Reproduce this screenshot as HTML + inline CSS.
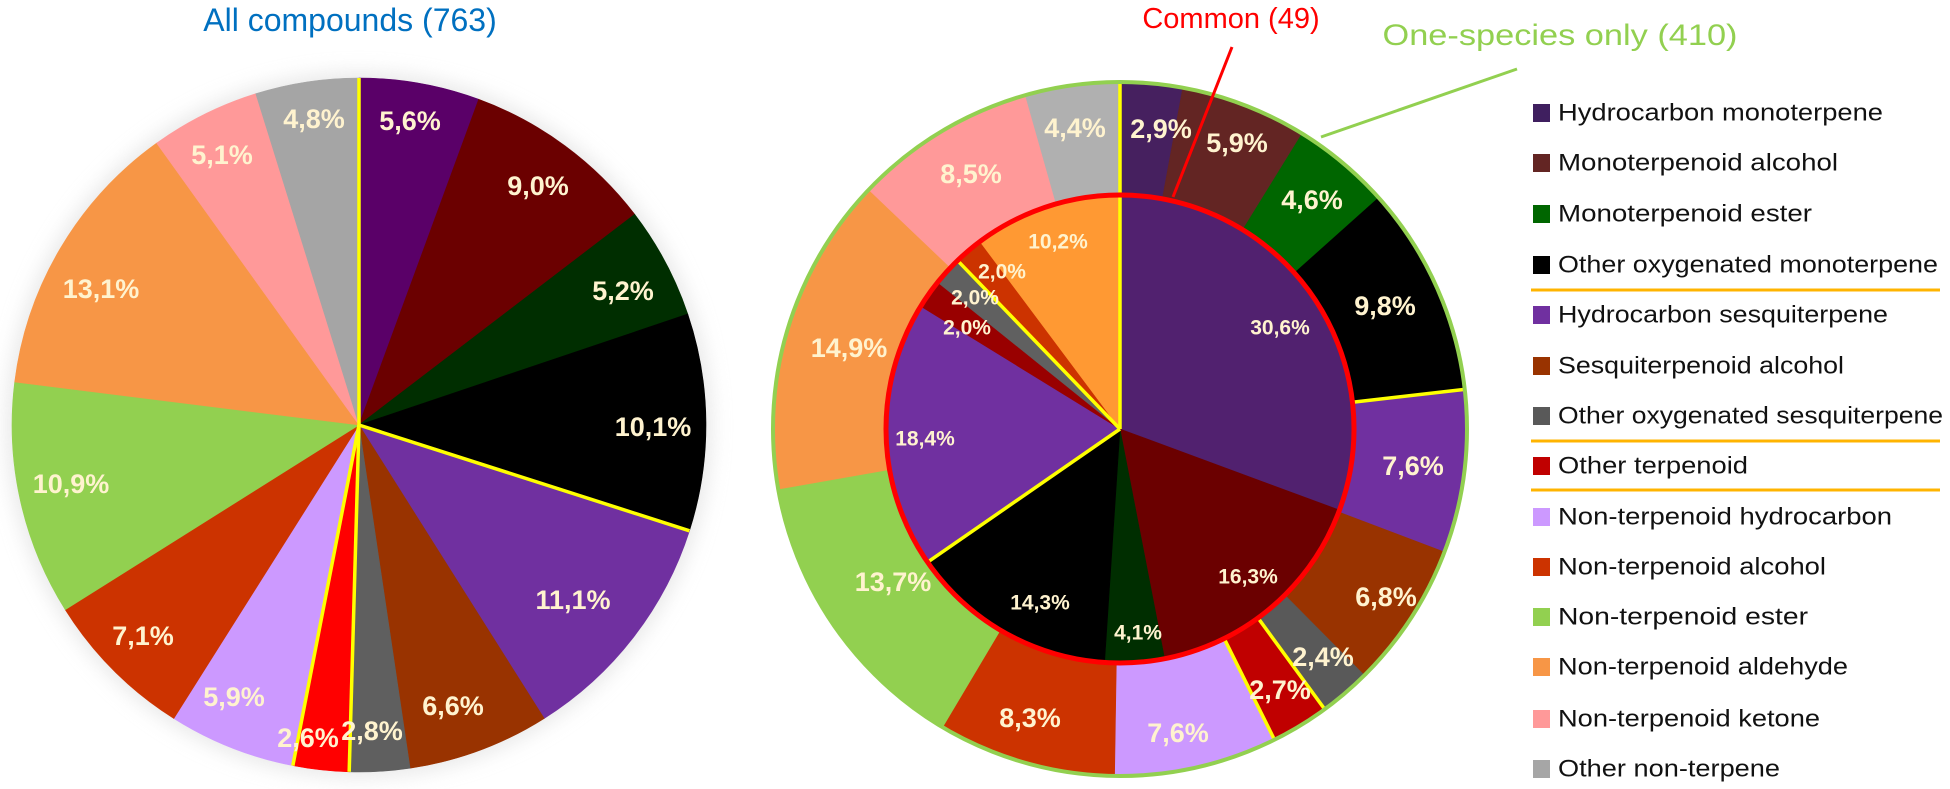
<!DOCTYPE html>
<html><head><meta charset="utf-8">
<style>
html,body{margin:0;padding:0;background:#fff;}
svg{display:block;}
.lb{font-family:"Liberation Sans",sans-serif;font-weight:bold;fill:#FFF3CF;text-anchor:middle;dominant-baseline:central;}
.lg{font-family:"Liberation Sans",sans-serif;font-size:24px;fill:#111;dominant-baseline:central;}
</style></head>
<body>
<svg id="s" width="1950" height="789" viewBox="0 0 1950 789" xmlns="http://www.w3.org/2000/svg">
<defs>
<filter id="glow" x="-20%" y="-20%" width="140%" height="140%"><feGaussianBlur stdDeviation="10"/></filter>
</defs>
<circle cx="359" cy="425" r="352" fill="#d8d8d8" filter="url(#glow)" opacity="0.6"/>
<g id="left"></g>
<g id="outer"></g>
<g id="inner"></g>
<g id="yl"></g>
<circle cx="1120" cy="429" r="347" fill="none" stroke="#92D050" stroke-width="4"/>
<circle cx="1120" cy="429" r="234" fill="none" stroke="#FF0000" stroke-width="5"/>

<text x="350" y="31" font-family="Liberation Sans,sans-serif" font-size="32" fill="#0070C0" text-anchor="middle">All compounds (763)</text>
<text x="1231" y="28" font-family="Liberation Sans,sans-serif" font-size="29" fill="#FF0000" text-anchor="middle">Common (49)</text>
<text x="1560" y="45" font-family="Liberation Sans,sans-serif" font-size="30" fill="#92D050" text-anchor="middle" textLength="355" lengthAdjust="spacingAndGlyphs">One-species only (410)</text>
<line x1="1232" y1="47" x2="1173" y2="197" stroke="#FF0000" stroke-width="3"/>
<line x1="1517" y1="69" x2="1321" y2="137" stroke="#92D050" stroke-width="3"/>

<g id="labels"></g>
<g id="legend"></g>
</svg>
<script>
const NS="http://www.w3.org/2000/svg";
function el(p,tag,a,txt){const e=document.createElementNS(NS,tag);for(const k in a)e.setAttribute(k,a[k]);if(txt)e.textContent=txt;p.appendChild(e);return e;}
function pt(cx,cy,r,f){const a=f*2*Math.PI;return [cx+r*Math.sin(a),cy-r*Math.cos(a)];}
function pie(g,cx,cy,r,vals,cols,ri){
  const tot=vals.reduce((a,b)=>a+b,0);let acc=0;const bounds=[0];
  vals.forEach((v,i)=>{const f0=acc/tot,f1=(acc+v)/tot;acc+=v;bounds.push(f1);
    const [x0,y0]=pt(cx,cy,r,f0),[x1,y1]=pt(cx,cy,r,f1);const large=(f1-f0)>0.5?1:0;
    let d;
    if(ri){const [a0,b0]=pt(cx,cy,ri,f0),[a1,b1]=pt(cx,cy,ri,f1);
      d=`M${a0},${b0}L${x0},${y0}A${r},${r} 0 ${large} 1 ${x1},${y1}L${a1},${b1}A${ri},${ri} 0 ${large} 0 ${a0},${b0}Z`;}
    else d=`M${cx},${cy}L${x0},${y0}A${r},${r} 0 ${large} 1 ${x1},${y1}Z`;
    el(g,'path',{d:d,fill:cols[i],stroke:cols[i],'stroke-width':0.6});});
  return bounds;}
function yline(cx,cy,r0,r1,f){const [a,b]=pt(cx,cy,r0,f),[c,d]=pt(cx,cy,r1,f);el(document.getElementById('yl'),'line',{x1:a,y1:b,x2:c,y2:d,stroke:'#FFFF00','stroke-width':3.5});}

// left
const lv=[5.6,9.0,5.2,10.1,11.1,6.6,2.8,2.6,5.9,7.1,10.9,13.1,5.1,4.8];
const lc=['#5A0068','#6B0000','#002E00','#000000','#7030A0','#993300','#5F5F5F','#FF0000','#CC99FF','#CC3300','#92D050','#F79646','#FF9999','#A5A5A5'];
const lb=pie(document.getElementById('left'),359,425,347,lv,lc);
[0,4,7,8].forEach(i=>yline(359,425,0,347,lb[i]));
// outer
const ov=[2.9,5.9,4.6,9.8,7.6,6.8,2.4,2.7,7.6,8.3,13.7,14.9,8.5,4.4];
const oc=['#46205F','#632523','#006600','#000000','#7030A0','#993300','#595959','#C00000','#CC99FF','#CC3300','#92D050','#F79646','#FF9999','#B0B0B0'];
const ob=pie(document.getElementById('outer'),1120,429,347,ov,oc,234);
[0,4,7,8].forEach(i=>yline(1120,429,234,347,ob[i]));
// inner
const iv=[30.6,16.3,4.1,14.3,18.4,2.0,2.0,2.0,10.2];
const ic=['#51216F','#6B0000','#002E00','#000000','#7030A0','#990000','#606060','#CC3300','#FF9933'];
const ib=pie(document.getElementById('inner'),1120,429,234,iv,ic);
[0,4,7].forEach(i=>yline(1120,429,0,234,ib[i]));

const L=document.getElementById('labels');
const big=[['4,8%',314,119],['5,6%',410,121],['9,0%',538,186],['5,2%',623,291],['10,1%',653,427],['11,1%',573,600],['6,6%',453,706],['2,8%',372,731],['2,6%',308,738],['5,9%',234,697],['7,1%',143,636],['10,9%',71,484],['13,1%',101,289],['5,1%',222,155],
['4,4%',1075,128],['2,9%',1161,129],['5,9%',1237,143],['4,6%',1312,200],['9,8%',1385,306],['7,6%',1413,466],['6,8%',1386,597],['2,4%',1323,657],['2,7%',1280,690],['7,6%',1178,733],['8,3%',1030,718],['13,7%',893,582],['14,9%',849,348],['8,5%',971,174]];
big.forEach(([t,x,y])=>el(L,'text',{x:x,y:y,class:'lb','font-size':27},t));
const sm=[['30,6%',1280,328],['16,3%',1248,577],['4,1%',1138,633],['14,3%',1040,603],['18,4%',925,439],['2,0%',967,328],['2,0%',975,298],['2,0%',1002,272],['10,2%',1058,242]];
sm.forEach(([t,x,y])=>el(L,'text',{x:x,y:y,class:'lb','font-size':21},t));

const G=document.getElementById('legend');
const items=[['Hydrocarbon monoterpene','#3F1F5F',113],['Monoterpenoid alcohol','#632523',163],['Monoterpenoid ester','#006600',214],['Other oxygenated monoterpene','#000000',265],['Hydrocarbon sesquiterpene','#7030A0',315],['Sesquiterpenoid alcohol','#993300',366],['Other oxygenated sesquiterpene','#595959',416],['Other terpenoid','#C00000',466],['Non-terpenoid hydrocarbon','#CC99FF',517],['Non-terpenoid alcohol','#CC3300',567],['Non-terpenoid ester','#92D050',617],['Non-terpenoid aldehyde','#F79646',667],['Non-terpenoid ketone','#FF9999',719],['Other non-terpene','#A6A6A6',769]];
items.forEach(([t,c,y])=>{el(G,'rect',{x:1533,y:y-9,width:17,height:18,fill:c});
  const tx=el(G,'text',{x:1558,y:y,class:'lg'},t);
  const w={'Hydrocarbon monoterpene':325,'Monoterpenoid alcohol':280,'Monoterpenoid ester':254,'Other oxygenated monoterpene':380,'Hydrocarbon sesquiterpene':330,'Sesquiterpenoid alcohol':286,'Other oxygenated sesquiterpene':385,'Other terpenoid':190,'Non-terpenoid hydrocarbon':334,'Non-terpenoid alcohol':268,'Non-terpenoid ester':250,'Non-terpenoid aldehyde':290,'Non-terpenoid ketone':262,'Other non-terpene':222}[t];
  tx.setAttribute('textLength',w);tx.setAttribute('lengthAdjust','spacingAndGlyphs');});
[290,441,490].forEach(y=>el(G,'line',{x1:1531,y1:y,x2:1940,y2:y,stroke:'#FFB400','stroke-width':3}));
</script>
</body></html>
